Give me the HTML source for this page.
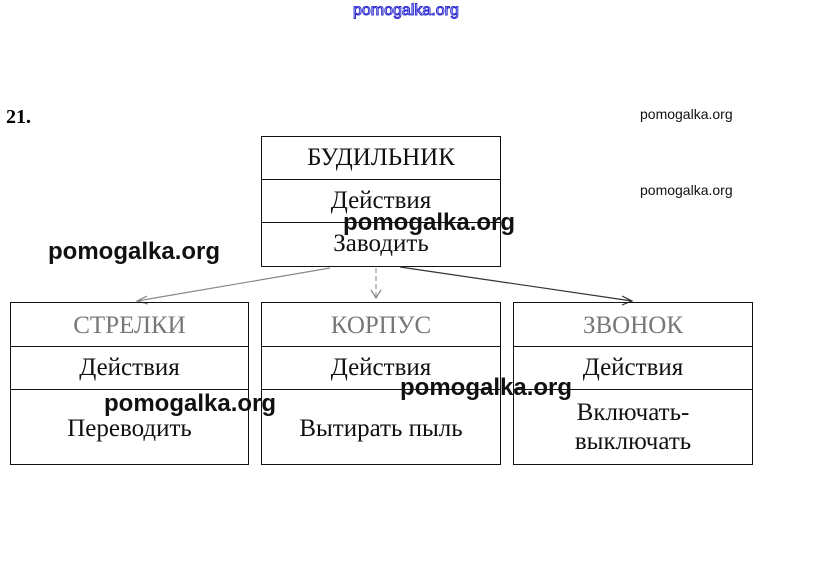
<!DOCTYPE html>
<html><head><meta charset="utf-8"><style>
body{margin:0;width:823px;height:572px;background:#fff;position:relative;overflow:hidden;font-family:"Liberation Serif","DejaVu Serif",serif;}
.b{position:absolute;border:1px solid #111;box-sizing:border-box;}
.h{position:absolute;left:0;right:0;height:1px;background:#111;}
.t{position:absolute;left:0;right:0;text-align:center;font-size:25px;color:#111;line-height:28px;}
.w{position:absolute;font-family:"Liberation Sans",sans-serif;font-weight:bold;color:#111;white-space:nowrap;}
</style></head><body>
<div class="w" style="left:353px;top:2px;font-size:16px;font-weight:normal;color:#fff;-webkit-text-stroke:1px #2a2ad0;">pomogalka.org</div>
<div style="position:absolute;left:6px;top:106px;font-size:20px;font-weight:bold;">21.</div>
<div class="w" style="left:640px;top:106px;font-size:14px;font-weight:normal;">pomogalka.org</div>
<div class="w" style="left:640px;top:182px;font-size:14px;font-weight:normal;">pomogalka.org</div>

<div class="b" style="left:261px;top:136px;width:240px;height:131px;">
<div class="h" style="top:42px"></div><div class="h" style="top:85px"></div>
<div class="t" style="top:7px">БУДИЛЬНИК</div>
<div class="t" style="top:50px">Действия</div>
<div class="t" style="top:93px">Заводить</div>
</div>

<svg style="position:absolute;left:0;top:0" width="823" height="572">
<g fill="none" stroke-width="1.2">
<line x1="330" y1="268" x2="137" y2="301" stroke="#888"/>
<polyline points="147,296 137,301 148,304" stroke="#888"/>
<line x1="376" y1="268" x2="376" y2="298" stroke="#999" stroke-dasharray="5,3"/>
<polyline points="371,290 376,298 381,290" stroke="#888"/>
<line x1="400" y1="267" x2="632" y2="301" stroke="#333"/>
<polyline points="622,296 632,301 622,305" stroke="#333"/>
</g></svg>

<div class="b" style="left:10px;top:302px;width:239px;height:163px;">
<div class="h" style="top:43px"></div><div class="h" style="top:86px"></div>
<div class="t" style="top:9px;color:#777">СТРЕЛКИ</div>
<div class="t" style="top:51px">Действия</div>
<div class="t" style="top:112px">Переводить</div>
</div>
<div class="b" style="left:261px;top:302px;width:240px;height:163px;">
<div class="h" style="top:43px"></div><div class="h" style="top:86px"></div>
<div class="t" style="top:9px;color:#777">КОРПУС</div>
<div class="t" style="top:51px">Действия</div>
<div class="t" style="top:112px">Вытирать пыль</div>
</div>
<div class="b" style="left:513px;top:302px;width:240px;height:163px;">
<div class="h" style="top:43px"></div><div class="h" style="top:86px"></div>
<div class="t" style="top:9px;color:#777">ЗВОНОК</div>
<div class="t" style="top:51px">Действия</div>
<div class="t" style="top:96px">Включать-</div>
<div class="t" style="top:125px">выключать</div>
</div>

<div class="w" style="left:343px;top:209px;font-size:24px;">pomogalka.org</div>
<div class="w" style="left:48px;top:238px;font-size:24px;">pomogalka.org</div>
<div class="w" style="left:400px;top:374px;font-size:24px;">pomogalka.org</div>
<div class="w" style="left:104px;top:390px;font-size:24px;">pomogalka.org</div>
</body></html>
